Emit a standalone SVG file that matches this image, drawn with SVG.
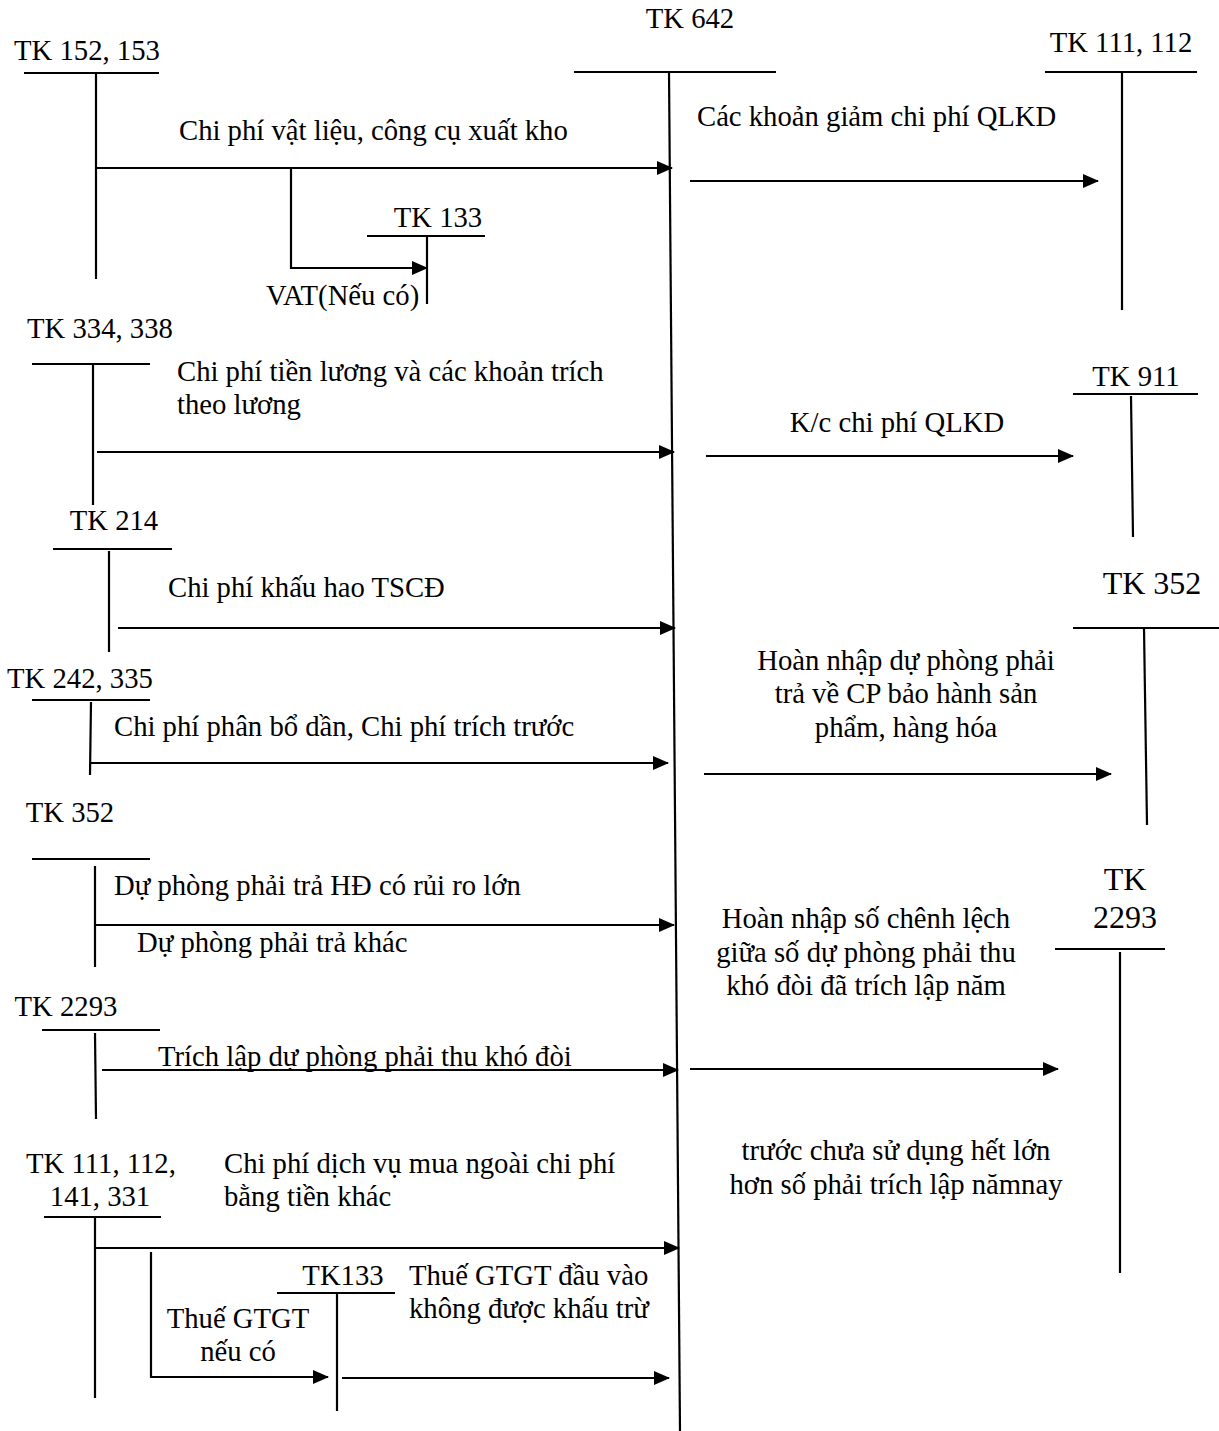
<svg xmlns="http://www.w3.org/2000/svg" width="1219" height="1431" viewBox="0 0 1219 1431">
<style>
text{font-family:"Liberation Serif","Times New Roman",serif;font-size:28.7px;fill:#000}
.big{font-size:32px}
.m{text-anchor:middle}
line,polyline{stroke:#000;stroke-width:2.2;fill:none}
.a{marker-end:url(#ah)}
</style>
<defs>
<marker id="ah" markerWidth="16" markerHeight="14" refX="15" refY="7" orient="auto" markerUnits="userSpaceOnUse">
<path d="M0,0 L16,7 L0,14 Z" fill="#000"/>
</marker>
</defs>
<rect width="1219" height="1431" fill="#fff"/>
<g id="tk642">
<text x="690" y="28" class="m">TK 642</text>
<line x1="574" y1="72" x2="776" y2="72"/>
<line x1="669" y1="72" x2="680" y2="1431"/>
</g>
<g id="tk152">
<text x="87" y="60" class="m">TK 152, 153</text>
<line x1="24" y1="73" x2="159" y2="73"/>
<line x1="96" y1="73" x2="96" y2="279"/>
</g>
<g id="tk133a">
<text x="438" y="227" class="m">TK 133</text>
<line x1="367" y1="236" x2="485" y2="236"/>
<line x1="427" y1="236" x2="427" y2="304"/>
</g>
<g id="tk111r">
<text x="1121" y="52" class="m">TK 111, 112</text>
<line x1="1045" y1="72" x2="1197" y2="72"/>
<line x1="1122" y1="72" x2="1122" y2="310"/>
</g>
<g id="tk334">
<text x="100" y="338" class="m">TK 334, 338</text>
<line x1="32" y1="364" x2="150" y2="364"/>
<line x1="93" y1="364" x2="93" y2="505"/>
</g>
<g id="tk911">
<text x="1136" y="386" class="m">TK 911</text>
<line x1="1073" y1="394" x2="1198" y2="394"/>
<line x1="1131" y1="396" x2="1133" y2="537"/>
</g>
<g id="tk214">
<text x="114" y="530" class="m">TK 214</text>
<line x1="53" y1="549" x2="172" y2="549"/>
<line x1="109" y1="551" x2="109" y2="652"/>
</g>
<g id="tk352r">
<text x="1152" y="594" class="m big">TK 352</text>
<line x1="1073" y1="628" x2="1219" y2="628"/>
<line x1="1144" y1="628" x2="1147" y2="825"/>
</g>
<g id="tk242">
<text x="80" y="688" class="m">TK 242, 335</text>
<line x1="32" y1="700" x2="150" y2="700"/>
<line x1="91" y1="702" x2="90" y2="775"/>
</g>
<g id="tk352l">
<text x="70" y="822" class="m">TK 352</text>
<line x1="32" y1="859" x2="150" y2="859"/>
<line x1="95" y1="866" x2="95" y2="967"/>
</g>
<g id="tk2293r">
<text x="1125" y="890" class="m big">TK</text>
<text x="1125" y="928" class="m big">2293</text>
<line x1="1055" y1="949" x2="1165" y2="949"/>
<line x1="1120" y1="952" x2="1120" y2="1273"/>
</g>
<g id="tk2293l">
<text x="66" y="1016" class="m">TK 2293</text>
<line x1="42" y1="1030" x2="160" y2="1030"/>
<line x1="95" y1="1033" x2="96" y2="1119"/>
</g>
<g id="tk111l">
<text x="101" y="1173" class="m">TK 111, 112,</text>
<text x="100" y="1206" class="m">141, 331</text>
<line x1="44" y1="1217" x2="161" y2="1217"/>
<line x1="95" y1="1217" x2="95" y2="1398"/>
</g>
<g id="tk133b">
<text x="343" y="1285" class="m">TK133</text>
<line x1="277" y1="1293" x2="395" y2="1293"/>
<line x1="337" y1="1293" x2="337" y2="1411"/>
</g>
<g id="connectors">
<line class="a" x1="96" y1="168" x2="672" y2="168"/>
<polyline class="a" points="291,168 291,268 427,268"/>
<line class="a" x1="690" y1="181" x2="1098" y2="181"/>
<line class="a" x1="97" y1="452" x2="674" y2="452"/>
<line class="a" x1="706" y1="456" x2="1073" y2="456"/>
<line class="a" x1="118" y1="628" x2="675" y2="628"/>
<line class="a" x1="91" y1="763" x2="668" y2="763"/>
<line class="a" x1="704" y1="774" x2="1111" y2="774"/>
<line class="a" x1="95" y1="925" x2="674" y2="925"/>
<line class="a" x1="102" y1="1070" x2="678" y2="1070"/>
<line class="a" x1="690" y1="1069" x2="1058" y2="1069"/>
<line class="a" x1="95" y1="1248" x2="679" y2="1248"/>
<polyline class="a" points="151,1252 151,1377 328,1377"/>
<line class="a" x1="342" y1="1378" x2="669" y2="1378"/>
</g>
<g id="labels">
<text x="179" y="140">Chi phí vật liệu, công cụ xuất kho</text>
<text x="266" y="305">VAT(Nếu có)</text>
<text x="697" y="126">Các khoản giảm chi phí QLKD</text>
<text x="177" y="381">Chi phí tiền lương và các khoản trích</text>
<text x="177" y="414">theo lương</text>
<text x="897" y="432" class="m">K/c chi phí QLKD</text>
<text x="168" y="597">Chi phí khấu hao TSCĐ</text>
<text x="906" y="670" class="m">Hoàn nhập dự phòng phải</text>
<text x="906" y="703" class="m">trả về CP bảo hành sản</text>
<text x="906" y="737" class="m">phẩm, hàng hóa</text>
<text x="114" y="736">Chi phí phân bổ dần, Chi phí trích trước</text>
<text x="114" y="895">Dự phòng phải trả HĐ có rủi ro lớn</text>
<text x="137" y="952">Dự phòng phải trả khác</text>
<text x="866" y="928" class="m">Hoàn nhập số chênh lệch</text>
<text x="866" y="962" class="m">giữa số dự phòng phải thu</text>
<text x="866" y="995" class="m">khó đòi đã trích lập năm</text>
<text x="158" y="1066">Trích lập dự phòng phải thu khó đòi</text>
<text x="896" y="1160" class="m">trước chưa sử dụng hết lớn</text>
<text x="896" y="1194" class="m">hơn số phải trích lập nămnay</text>
<text x="224" y="1173">Chi phí dịch vụ mua ngoài chi phí</text>
<text x="224" y="1206">bằng tiền khác</text>
<text x="409" y="1285">Thuế GTGT đầu vào</text>
<text x="409" y="1318">không được khấu trừ</text>
<text x="238" y="1328" class="m">Thuế GTGT</text>
<text x="238" y="1361" class="m">nếu có</text>
</g>
</svg>
